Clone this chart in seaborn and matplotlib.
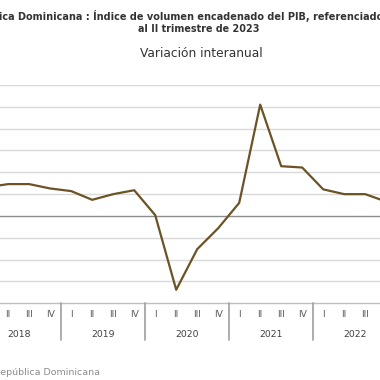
import matplotlib
matplotlib.use("Agg")
import matplotlib.pyplot as plt
import matplotlib.transforms as mtransforms
import seaborn as sns
import pandas as pd

# ---- data ----
years = ["2018", "2019", "2020", "2021", "2022"]
quarters = ["I", "II", "III", "IV"]
values = [6.6, 7.3, 7.3, 6.3,      # 2018
          5.7, 3.7, 5.0, 5.9,      # 2019
          0.2, -16.9, -7.6, -2.8,  # 2020
          3.0, 25.5, 11.4, 11.1,   # 2021
          6.1, 5.0, 5.0, 3.3]      # 2022
y_ticks = [-20, -15, -10, -5, 0, 5, 10, 15, 20, 25, 30]

title_line1 = "República Dominicana : Índice de volumen encadenado del PIB, referenciado"
title_line2 = "al II trimestre de 2023"
subtitle = "Variación interanual"
source = "Fuente: Banco Central de la República Dominicana"

df = pd.DataFrame({
    "t": list(range(len(values))),
    "v": values,
})

sns.set_theme(style="white")
plt.rcParams["font.family"] = ["DejaVu Sans"]

W = H = 380
fig = plt.figure(figsize=(3.8, 3.8), dpi=100)
fig.patch.set_facecolor("white")

# axes placement in pixels (extends past the left/right edge, as the reference is a crop)
qw = 21.0
ax_left_px = -23.3
n_slots = 22
ax_top_px = 85.0
ax_bot_px = 303.3
ax = fig.add_axes([ax_left_px / W, 1 - ax_bot_px / H,
                   n_slots * qw / W, (ax_bot_px - ax_top_px) / H])
ax.set_facecolor("white")

sns.lineplot(data=df, x="t", y="v", ax=ax, color="#6b5326", linewidth=1.6)

ax.set_xlim(-0.5, n_slots - 0.5)
ax.set_ylim(-20, 30)
ax.set_yticks(y_ticks)
ax.set_yticklabels([])
for yv in y_ticks:
    if yv == 0:
        ax.axhline(yv, color="#8c8c8c", lw=1.0, zorder=1)
    elif yv == -20:
        ax.axhline(yv, color="#bfbfbf", lw=1.0, zorder=1, clip_on=False)
    else:
        ax.axhline(yv, color="#d9d9d9", lw=1.0, zorder=1)
for s in ax.spines.values():
    s.set_visible(False)
ax.set_xlabel("")
ax.set_ylabel("")

# quarter tick labels
n = len(values)
ax.set_xticks(range(n))
ax.set_xticklabels([quarters[i % 4] for i in range(n)], color="#595959", fontsize=6.6)
ax.tick_params(axis="x", length=0, pad=4.5)
ax.tick_params(axis="y", length=0)

trans = mtransforms.blended_transform_factory(ax.transData, ax.transAxes)
axh = ax_bot_px - ax_top_px
for k, yr in enumerate(years):
    ax.text(4 * k + 1.5, -(334.3 - ax_bot_px) / axh, yr, transform=trans,
            ha="center", va="center", fontsize=6.7, color="#404040")
for k in range(len(years) + 1):
    ax.plot([4 * k - 0.5, 4 * k - 0.5], [0, -(340 - ax_bot_px) / axh],
            transform=trans, color="#a6a6a6", lw=1.3, clip_on=False)

# titles
fig.text(383 / W, 1 - 15.7 / H, title_line1, ha="right", va="center",
         fontsize=7.0, fontweight="bold", color="#333333")
fig.text(199 / W, 1 - 29.3 / H, title_line2, ha="center", va="center",
         fontsize=6.9, fontweight="bold", color="#333333")
fig.text(201 / W, 1 - 53.5 / H, subtitle, ha="center", va="center",
         fontsize=8.8, color="#333333")
fig.text(100 / W, 1 - 372.5 / H, source, ha="right", va="center",
         fontsize=6.8, color="#8c8c8c")

fig.savefig("out.png", dpi=100, facecolor="white")
